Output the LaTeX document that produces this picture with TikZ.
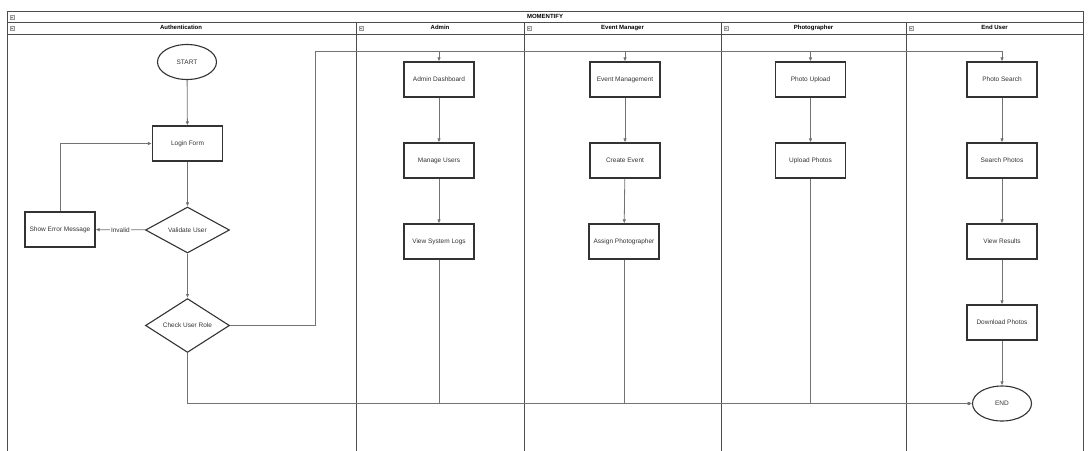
\documentclass[tikz,border=0pt]{standalone}
\usepackage{fontspec}
\setmainfont{Liberation Sans}
\usetikzlibrary{shapes.geometric,arrows.meta}
\begin{document}
\begin{tikzpicture}[x=1pt,y=-1pt,
  lane/.style={draw=black!70,line width=0.7pt},
  hdr/.style={font=\fontsize{6}{7}\selectfont\bfseries,inner sep=0,text height=4.4pt,text depth=1.3pt},
  proc/.style={draw=black!80,line width=1.1pt,minimum width=70pt,minimum height=35pt,inner sep=0,font=\fontsize{6.5}{7}\selectfont,text=black!80},
  term/.style={ellipse,draw=black!80,line width=1.1pt,minimum width=59pt,minimum height=35pt,inner sep=0,font=\fontsize{6.5}{7}\selectfont,text=black!80},
  dec/.style={diamond,draw=black!80,line width=1.1pt,minimum width=84pt,minimum height=46pt,inner sep=0,font=\fontsize{6.5}{7}\selectfont,text=black!80},
  arr/.style={draw=black!55,line width=0.8pt,-{Latex[length=4pt,width=3.5pt,fill=black]}},
  mini/.style={draw=black!40,fill=black!8,minimum size=4pt,inner sep=0,line width=0.3pt,
    path picture={\draw[black!50,line width=0.4pt] ([xshift=0.8pt]path picture bounding box.west) -- ([xshift=-0.8pt]path picture bounding box.east);}}
]
\useasboundingbox (0,0) rectangle (1089,450);
% pool and lanes
\draw[lane] (7,460) -- (7,11) -- (1083,11) -- (1083,460);
\draw[lane] (7,22.5) -- (1083,22.5);
\draw[lane] (7,34) -- (1083,34);
\foreach \x in {356,524,721,906} \draw[lane] (\x,22.5) -- (\x,460);
\node[hdr] (pool) at (545,16.7) {MOMENTIFY};
\node[hdr] (hA) at (181,28.3) {Authentication};
\node[hdr] (hB) at (440,28.3) {Admin};
\node[hdr] (hC) at (622.5,28.3) {Event Manager};
\node[hdr] (hD) at (813.5,28.3) {Photographer};
\node[hdr] (hE) at (994.5,28.3) {End User};
\foreach \x/\y [count=\i] in {12/16.7,12/28.3,361/28.3,529/28.3,726/28.3,911/28.3}
  \node[mini] (m\i) at (\x,\y) {};
% Authentication
\node[term] (start) at (187,62) {START};
\node[proc] (login) at (187.5,143.5) {Login Form};
\node[dec] (val) at (187.5,230) {Validate User};
\node[proc] (err) at (60,229.5) {Show Error Message};
\node[dec] (role) at (187.5,325.5) {Check User Role};
% Admin
\node[proc] (adash) at (439,79.5) {Admin Dashboard};
\node[proc] (musers) at (439,160.5) {Manage Users};
\node[proc] (logs) at (439,241.5) {View System Logs};
% Event manager
\node[proc] (emgmt) at (625,79.5) {Event Management};
\node[proc] (cevent) at (625,160.5) {Create Event};
\node[proc] (assign) at (624,241.5) {Assign Photographer};
% Photographer
\node[proc] (pup) at (810.5,79.5) {Photo Upload};
\node[proc] (upl) at (810.5,160.5) {Upload Photos};
% End user
\node[proc] (psearch) at (1002,79.5) {Photo Search};
\node[proc] (spho) at (1002,160.5) {Search Photos};
\node[proc] (vres) at (1002,241.5) {View Results};
\node[proc] (dl) at (1002,322.5) {Download Photos};
\node[term] (end) at (1002,403.5) {END};
% connectors
\draw[arr] (start) -- (login);
\draw[arr] (login) -- (val);
\draw[arr] (val) -- node[fill=white,inner sep=1pt,font=\fontsize{6.5}{7}\selectfont,text=black!80] {Invalid} (err);
\draw[arr] (err.north) |- (login.west);
\draw[arr] (val) -- (role);
\coordinate (bus) at (315,51);
\draw[arr] (role.east) -| (bus) -| (adash.north);
\draw[arr] (role.east) -| (bus) -| (emgmt.north);
\draw[arr] (role.east) -| (bus) -| (pup.north);
\draw[arr] (role.east) -| (bus) -| (psearch.north);
\draw[arr] (adash) -- (musers);
\draw[arr] (musers) -- (logs);
\draw[arr] (emgmt) -- (cevent);
\draw[arr] (cevent) -- (assign);
\draw[arr] (pup) -- (upl);
\draw[arr] (psearch) -- (spho);
\draw[arr] (spho) -- (vres);
\draw[arr] (vres) -- (dl);
\draw[arr] (dl) -- (end);
\draw[arr] (role.south) |- (end.west);
\draw[arr] (logs.south) |- (end.west);
\draw[arr] (assign.south) |- (end.west);
\draw[arr] (upl.south) |- (end.west);
\end{tikzpicture}
\end{document}
